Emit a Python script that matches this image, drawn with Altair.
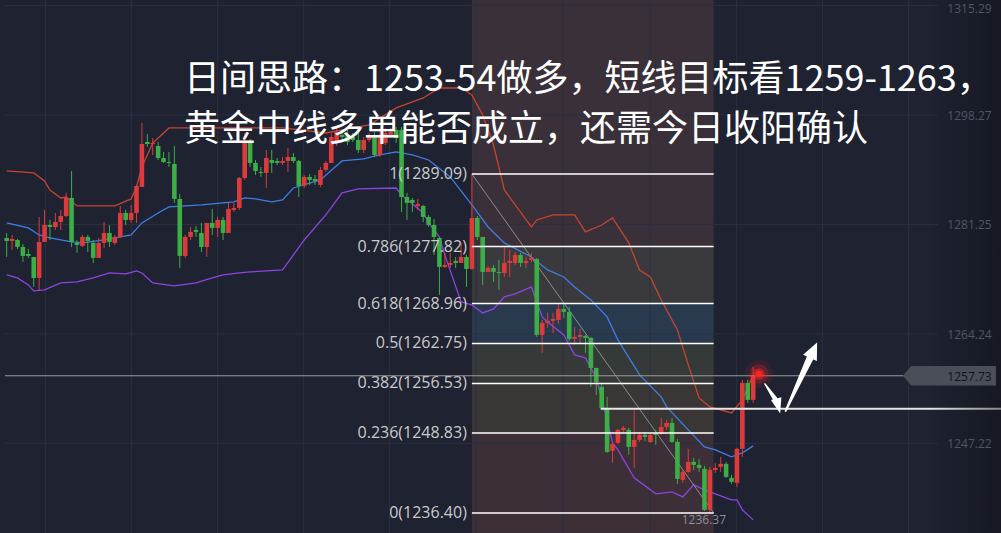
import altair as alt
import pandas as pd

# ---------------- candles (index = bar number, prices in USD/oz) ----------------
open_ = [1279.16, 1278.69, 1278.84, 1277.75, 1276.67, 1276.20, 1272.94, 1278.53, 1281.17, 1280.86,
         1281.64, 1282.57, 1285.37, 1278.38, 1277.91, 1279.31, 1278.38, 1276.05, 1278.38, 1279.93,
         1278.38, 1279.31, 1283.04, 1281.95, 1283.04, 1287.08, 1294.07, 1293.76, 1293.45, 1291.58,
         1290.96, 1290.65, 1285.22, 1276.36, 1279.31, 1280.40, 1279.93, 1277.75, 1281.49, 1280.71,
         1281.95, 1279.93, 1283.51, 1283.82, 1288.48, 1293.91, 1290.81, 1289.41, 1289.26, 1291.27,
         1291.12, 1290.81, 1291.12, 1291.74, 1291.12, 1287.24, 1288.64, 1288.33, 1287.39, 1289.72,
         1290.81, 1293.91, 1295.16, 1295.16, 1294.85, 1294.38, 1292.83, 1294.38, 1295.16, 1292.05,
         1293.91, 1295.16, 1295.94, 1295.94, 1285.52, 1285.06, 1284.13, 1284.13, 1282.42, 1281.17,
         1279.15, 1274.65, 1274.96, 1275.58, 1275.27, 1276.20, 1274.34, 1282.26, 1279.31, 1273.87,
         1274.49, 1273.87, 1273.71, 1275.27, 1275.27, 1276.52, 1275.27, 1275.74, 1275.89, 1264.08,
         1265.95, 1266.26, 1266.41, 1268.12, 1267.66, 1263.46, 1263.77, 1263.92, 1263.61, 1258.95,
         1256.00, 1252.74, 1246.06, 1247.29, 1249.32, 1249.32, 1246.68, 1247.76, 1248.54, 1247.45,
         1248.85, 1248.69, 1249.78, 1250.40, 1247.45, 1241.55, 1242.79, 1244.35, 1243.88, 1243.26,
         1236.89, 1243.10, 1243.57, 1244.04, 1241.86, 1241.08, 1246.37, 1256.62, 1253.98]
high = [1279.93, 1279.62, 1279.00, 1278.22, 1277.45, 1276.20, 1282.42, 1283.51, 1281.95, 1283.04,
        1283.51, 1286.15, 1289.57, 1278.84, 1279.62, 1279.62, 1278.84, 1279.15, 1281.64, 1281.17,
        1279.62, 1284.13, 1283.51, 1284.29, 1287.39, 1297.03, 1295.32, 1294.69, 1294.07, 1292.52,
        1292.52, 1293.45, 1285.99, 1279.62, 1280.86, 1281.02, 1281.49, 1281.49, 1283.66, 1282.42,
        1282.42, 1284.60, 1284.60, 1288.64, 1295.47, 1294.53, 1291.27, 1290.19, 1292.83, 1292.83,
        1291.58, 1291.74, 1293.14, 1292.36, 1291.27, 1288.95, 1289.10, 1288.95, 1290.19, 1291.12,
        1295.47, 1296.25, 1295.94, 1295.94, 1295.47, 1295.47, 1294.85, 1295.47, 1295.63, 1296.25,
        1296.25, 1296.25, 1296.40, 1296.40, 1286.15, 1285.37, 1285.22, 1284.29, 1282.73, 1282.11,
        1279.31, 1276.83, 1276.83, 1276.20, 1278.38, 1276.52, 1289.09, 1282.57, 1279.31, 1274.80,
        1274.96, 1275.74, 1277.76, 1277.29, 1276.98, 1276.83, 1276.20, 1276.83, 1276.05, 1266.41,
        1267.50, 1267.50, 1269.05, 1269.21, 1268.43, 1265.33, 1265.01, 1264.08, 1263.77, 1258.95,
        1256.62, 1254.45, 1247.45, 1249.47, 1249.94, 1249.63, 1252.43, 1249.01, 1249.01, 1248.85,
        1249.32, 1251.18, 1250.87, 1251.18, 1247.92, 1243.10, 1246.37, 1244.97, 1244.81, 1243.72,
        1243.57, 1244.19, 1245.13, 1244.35, 1242.32, 1246.52, 1257.09, 1257.09, 1259.11]
low = [1276.20, 1277.29, 1277.44, 1275.43, 1276.05, 1271.54, 1271.07, 1278.53, 1278.84, 1280.40,
       1280.40, 1282.42, 1277.75, 1276.83, 1277.75, 1276.98, 1275.27, 1276.05, 1277.60, 1277.75,
       1278.07, 1279.15, 1281.17, 1281.49, 1281.49, 1287.08, 1293.30, 1292.05, 1291.27, 1290.81,
       1290.19, 1284.60, 1274.49, 1276.05, 1278.84, 1279.31, 1276.98, 1276.20, 1279.62, 1279.31,
       1278.84, 1279.93, 1283.20, 1283.51, 1288.17, 1290.19, 1288.95, 1288.64, 1286.92, 1289.26,
       1290.50, 1290.50, 1289.41, 1290.81, 1285.52, 1286.92, 1287.39, 1287.39, 1287.08, 1289.41,
       1290.81, 1293.45, 1294.38, 1293.60, 1294.07, 1292.36, 1292.36, 1294.07, 1291.74, 1291.74,
       1293.60, 1294.85, 1293.91, 1283.20, 1281.95, 1283.20, 1283.51, 1281.64, 1280.86, 1276.52,
       1270.30, 1274.49, 1274.49, 1274.49, 1275.27, 1271.54, 1274.18, 1278.84, 1271.85, 1273.87,
       1272.32, 1271.07, 1273.09, 1273.09, 1274.96, 1274.65, 1274.49, 1275.43, 1263.77, 1261.28,
       1265.17, 1264.39, 1265.79, 1266.72, 1263.15, 1262.53, 1262.84, 1261.28, 1256.00, 1254.76,
       1252.43, 1245.75, 1244.19, 1247.14, 1248.85, 1245.44, 1243.41, 1247.45, 1247.60, 1247.29,
       1246.99, 1248.54, 1249.32, 1247.29, 1240.93, 1241.08, 1242.64, 1243.10, 1242.79, 1236.73,
       1236.37, 1242.64, 1242.79, 1241.86, 1240.93, 1240.46, 1245.13, 1253.51, 1253.51]
close = [1278.69, 1279.00, 1277.75, 1276.36, 1276.36, 1272.94, 1278.53, 1281.17, 1280.86, 1281.64,
         1282.57, 1285.37, 1278.53, 1278.07, 1279.31, 1278.69, 1276.05, 1278.38, 1279.93, 1278.53,
         1279.31, 1283.04, 1281.95, 1283.04, 1287.24, 1293.76, 1293.76, 1293.91, 1291.58, 1290.96,
         1290.81, 1285.22, 1276.36, 1279.31, 1280.09, 1280.09, 1277.75, 1281.49, 1280.71, 1281.95,
         1279.93, 1283.66, 1283.82, 1288.48, 1293.91, 1290.81, 1289.57, 1289.26, 1291.58, 1290.81,
         1290.81, 1291.12, 1291.74, 1291.12, 1287.24, 1288.64, 1288.17, 1288.02, 1289.72, 1290.81,
         1294.85, 1295.63, 1294.85, 1294.07, 1294.38, 1292.83, 1294.38, 1294.85, 1292.05, 1294.85,
         1295.47, 1295.63, 1294.69, 1285.52, 1284.60, 1284.60, 1284.44, 1282.42, 1281.17, 1279.31,
         1274.65, 1274.96, 1275.27, 1275.27, 1276.20, 1274.34, 1282.26, 1279.31, 1273.87, 1274.49,
         1273.87, 1273.71, 1275.27, 1275.58, 1276.52, 1275.27, 1275.58, 1276.05, 1264.08, 1265.95,
         1266.26, 1266.57, 1268.12, 1267.66, 1263.46, 1263.77, 1264.08, 1263.61, 1258.95, 1256.78,
         1252.74, 1245.90, 1247.14, 1249.32, 1249.63, 1246.68, 1247.76, 1248.54, 1248.23, 1248.54,
         1248.54, 1249.78, 1250.40, 1247.45, 1241.70, 1242.79, 1244.35, 1243.88, 1243.41, 1236.89,
         1243.10, 1243.41, 1244.04, 1242.01, 1241.24, 1246.37, 1256.62, 1253.98, 1257.73]

# ---------------- Bollinger bands (bar number, price) ----------------
upper_idx = [0, 5, 7, 8, 10, 11, 13, 20, 23, 24, 25, 27, 30, 43, 51, 59, 67, 72, 77, 80, 84, 86,
             88, 90, 92, 97, 98, 101, 105, 107, 110, 112, 115, 117, 119, 121, 124, 126, 128, 130,
             134, 136, 138]
upper_val = [1289.57, 1289.26, 1288.02, 1286.61, 1285.37, 1285.52, 1284.13, 1284.13, 1285.22,
             1287.08, 1290.19, 1293.91, 1296.25, 1296.25, 1296.25, 1295.47, 1296.71, 1299.36,
             1300.91, 1302.46, 1302.46, 1301.38, 1298.27, 1293.60, 1286.61, 1280.86, 1281.95,
             1282.73, 1282.73, 1280.09, 1281.17, 1282.26, 1278.38, 1274.18, 1273.09, 1269.52,
             1264.86, 1259.42, 1254.29, 1252.89, 1251.96, 1253.98, 1257.87]
mid_idx = [0, 4, 6, 8, 12, 14, 18, 23, 25, 28, 30, 36, 42, 44, 46, 49, 51, 53, 58, 62, 66, 69,
           72, 75, 78, 82, 86, 89, 92, 97, 100, 103, 105, 108, 111, 113, 117, 121, 122, 126, 129,
           131, 134, 136, 138]
mid_val = [1281.49, 1280.71, 1279.62, 1279.15, 1278.53, 1278.38, 1278.84, 1279.62, 1281.49,
           1283.04, 1283.97, 1284.29, 1284.75, 1285.37, 1285.22, 1284.75, 1285.06, 1286.92,
           1288.17, 1291.12, 1291.43, 1292.05, 1292.52, 1292.05, 1291.27, 1288.64, 1284.29,
           1280.86, 1278.38, 1276.20, 1274.18, 1273.09, 1271.54, 1269.52, 1266.88, 1263.30,
           1257.87, 1254.45, 1252.89, 1249.32, 1246.68, 1246.21, 1245.13, 1245.75, 1246.83]
lower_idx = [0, 2, 4, 5, 7, 10, 13, 16, 19, 22, 24, 25, 27, 31, 35, 38, 40, 43, 45, 51, 55, 59,
             62, 65, 72, 73, 77, 78, 80, 81, 84, 86, 88, 90, 92, 94, 97, 99, 100, 103, 105, 107,
             109, 111, 112, 113, 116, 120, 123, 125, 127, 129, 134, 135, 136, 138]
lower_val = [1273.40, 1272.94, 1271.85, 1270.92, 1271.07, 1272.16, 1272.32, 1272.94, 1273.71,
             1273.56, 1274.03, 1273.71, 1272.16, 1271.69, 1272.16, 1272.94, 1273.40, 1273.71,
             1273.87, 1274.18, 1278.84, 1282.73, 1286.15, 1286.77, 1286.92, 1285.84, 1283.04,
             1281.49, 1279.31, 1276.52, 1269.21, 1268.74, 1267.50, 1268.12, 1270.00, 1270.46,
             1271.54, 1266.88, 1266.10, 1264.08, 1260.97, 1260.51, 1257.40, 1250.87, 1247.29,
             1246.21, 1241.86, 1239.37, 1239.68, 1238.91, 1240.77, 1239.99, 1238.44, 1238.44,
             1236.89, 1235.33]

# ---------------- Fibonacci retracement ----------------
fib_ratio = ["1", "0.786", "0.618", "0.5", "0.382", "0.236", "0"]
fib_price = [1289.09, 1277.82, 1268.96, 1262.75, 1256.53, 1248.83, 1236.40]
fib_from, fib_to = 86, 130.7            # bar numbers spanned by the tool
zone_fill = ["#3a3039", "#3a393d", "#2a3a4e", "#353a39", "#3a3636", "#3c2f38"]

# ---------------- axis / annotations ----------------
price_ticks = [1315.29, 1298.27, 1281.25, 1264.24, 1247.22]
vgrid_idx = [7.2, 23.1, 39.0, 54.9, 70.8, 86.8, 102.9, 118.9, 134.9, 150.8, 166.7]
last_price = 1257.73
support_price = 1252.6
support_from = 109.8
low_bar, low_price = 130, 1236.37
headline_1 = "日间思路：1253-54做多，短线目标看1259-1263，"
headline_2 = "黄金中线多单能否成立，还需今日收阳确认"

# arrow shafts: (arrow id, bar number, price, width px) and heads: (bar, price, angle)
shaft_pts = [("down", 140.17, 1256.47, 1.5), ("down", 142.06, 1254.14, 4.5),
             ("up", 144.01, 1252.27, 2.0), ("up", 148.51, 1260.50, 7.0)]
head_up = (149.16, 1261.70, 25)
head_down = (142.62, 1253.02, 165)
glow_bar, glow_price = 139.07, 1258.02

# ---------------- styling ----------------
BG = "#1e2231"
GRID = "#2b3040"
RED = "#dd3b3b"
GREEN = "#3cae46"
FONT = "Open Sans"
CJK = "Noto Sans CJK SC"
X_MIN, X_MAX = -0.311, 172.54
Y_MIN, Y_MAX = 1233.29, 1316.14
X_EDGE = 184.0                        # past the right edge of the page, in bar units
GRID_END = 172.18                     # horizontal grid stops just before the price labels
LABEL_AT = 173.9                      # left edge of the price labels

xs = alt.Scale(domain=[X_MIN, X_MAX], nice=False, zero=False)
ys = alt.Scale(domain=[Y_MIN, Y_MAX], nice=False, zero=False)


def X(field, **kw):
    return alt.X(field, type="quantitative", scale=xs, axis=None, **kw)


def Y(field, **kw):
    return alt.Y(field, type="quantitative", scale=ys, axis=None, **kw)


candles = pd.DataFrame({"i": range(len(open_)), "open": open_, "high": high,
                        "low": low, "close": close})
candles["col"] = [RED if c >= o else GREEN for o, c in zip(open_, close)]

zone_tops = [Y_MAX] + fib_price[1:-1]
zone_bots = fib_price[1:-1] + [Y_MIN]
zones = pd.DataFrame({"x": fib_from, "x2": fib_to, "top": zone_tops, "bot": zone_bots,
                      "fill": zone_fill})
fibs = pd.DataFrame({"x": fib_from, "x2": fib_to, "p": fib_price,
                     "label": [f"{r}({p:.2f})" for r, p in zip(fib_ratio, fib_price)]})

bands = pd.concat([
    pd.DataFrame({"i": upper_idx, "v": upper_val, "band": "upper", "col": "#c9442e"}),
    pd.DataFrame({"i": mid_idx, "v": mid_val, "band": "mid", "col": "#3d7fe6"}),
    pd.DataFrame({"i": lower_idx, "v": lower_val, "band": "lower", "col": "#8e44e0"}),
])

ticks = pd.DataFrame({"a": X_MIN, "b": GRID_END, "lx": LABEL_AT, "p": price_ticks,
                      "t": [f"{p:.2f}" for p in price_ticks]})
# the topmost label sits against the upper edge, so it is nudged down a little more
ticks["dy"] = [4] + [1] * (len(price_ticks) - 1)

# shaded retracement zones
zone_layer = alt.Chart(zones).mark_rect().encode(
    x=X("x"), x2="x2", y=Y("top"), y2="bot", color=alt.Color("fill:N", scale=None))

hgrid = alt.Chart(ticks).mark_rule(color=GRID, strokeWidth=1).encode(x=X("a"), x2="b", y=Y("p"))
vgrid = alt.Chart(pd.DataFrame({"g": vgrid_idx})).mark_rule(color=GRID, strokeWidth=1).encode(
    x=X("g"))
price_labels_top = alt.Chart(ticks.iloc[:1]).mark_text(
    align="left", baseline="middle", dy=4, font=FONT, fontSize=12, color="#4f5668").encode(
    x=X("lx"), y=Y("p"), text="t:N")
price_labels = alt.Chart(ticks.iloc[1:]).mark_text(
    align="left", baseline="middle", dy=1, font=FONT, fontSize=12, color="#4f5668").encode(
    x=X("lx"), y=Y("p"), text="t:N")

band_layer = alt.Chart(bands).mark_line(strokeWidth=1.3).encode(
    x=X("i"), y=Y("v"), detail="band:N", color=alt.Color("col:N", scale=None))

trend = alt.Chart(pd.DataFrame({"i": [fib_from, fib_to], "p": [fib_price[0], fib_price[-1]]})
                  ).mark_line(color="#8e8e8e", strokeWidth=1).encode(x=X("i"), y=Y("p"))

wicks = alt.Chart(candles).mark_rule(strokeWidth=1).encode(
    x=X("i"), y=Y("low"), y2="high", color=alt.Color("col:N", scale=None))
bodies = alt.Chart(candles).mark_bar(size=4.6).encode(
    x=X("i"), y=Y("open"), y2="close", color=alt.Color("col:N", scale=None))

fib_lines = alt.Chart(fibs).mark_rule(color="#ffffff", strokeWidth=1.5).encode(
    x=X("x"), x2="x2", y=Y("p"))
fib_text = alt.Chart(fibs).mark_text(align="right", baseline="middle", dx=-5, font=FONT,
                                     fontSize=16, color="#cacaca").encode(
    x=X("x"), y=Y("p"), text="label:N")

price_line = alt.Chart(pd.DataFrame({"a": [X_MIN], "b": [165.8], "p": [last_price]})).mark_rule(
    color="#9a9a9a", strokeWidth=1).encode(x=X("a"), x2="b", y=Y("p"))
support = alt.Chart(pd.DataFrame({"a": [support_from], "b": [X_EDGE], "p": [support_price]})
                    ).mark_rule(color="#e8e8e8", strokeWidth=2).encode(x=X("a"), x2="b", y=Y("p"))

edge_shade = alt.Chart(pd.DataFrame({"a": [170.5], "b": [X_EDGE]})).mark_rect(
    color=alt.LinearGradient(gradient="linear", x1=0, x2=1, y1=0, y2=0,
                             stops=[alt.GradientStop(color="rgba(10,12,18,0)", offset=0),
                                    alt.GradientStop(color="rgba(10,12,18,0.45)", offset=1)])
).encode(x=X("a"), x2="b")

tag_shape = "M-1,0L-0.82,-0.21L1,-0.21L1,0.21L-0.82,0.21Z"
tag = alt.Chart(pd.DataFrame({"i": [174.28], "p": [last_price]})).mark_point(
    shape=tag_shape, filled=True, size=8649, color="#4a4e59", opacity=1, strokeWidth=0).encode(
    x=X("i"), y=Y("p"))
tag_text = alt.Chart(pd.DataFrame({"i": [LABEL_AT], "p": [last_price],
                                   "t": [f"{last_price:.2f}"]})).mark_text(
    align="left", baseline="middle", dy=1, font=FONT, fontSize=12, color="#101217").encode(
    x=X("i"), y=Y("p"), text="t:N")

low_text = alt.Chart(pd.DataFrame({"i": [low_bar], "p": [low_price], "t": [f"{low_price:.2f}"]})
                     ).mark_text(align="center", baseline="top", dx=-6, dy=2, font=FONT,
                                 fontSize=12, color="#8b9099").encode(
    x=X("i"), y=Y("p"), text="t:N")

glow_df = pd.DataFrame({"i": [glow_bar] * 4, "p": [glow_price] * 4, "s": [800, 380, 130, 40],
                        "o": [0.10, 0.22, 0.5, 0.95]})
glow = alt.Chart(glow_df).mark_circle(color="#ff2424").encode(
    x=X("i"), y=Y("p"), size=alt.Size("s:Q", scale=None), opacity=alt.Opacity("o:Q", scale=None))

shafts = alt.Chart(pd.DataFrame(shaft_pts, columns=["id", "i", "p", "w"])).mark_trail(
    color="#ffffff").encode(x=X("i"), y=Y("p"), size=alt.Size("w:Q", scale=None), detail="id:N")
head_path_up = "M0,-1L0.9,1L-0.9,1Z"
head_path_down = "M0,-1L0.7,1L-0.7,1Z"
head_u = alt.Chart(pd.DataFrame([head_up], columns=["i", "p", "a"])).mark_point(
    shape=head_path_up, filled=True, size=286, color="#ffffff", opacity=1, strokeWidth=0).encode(
    x=X("i"), y=Y("p"), angle=alt.Angle("a:Q", scale=None))
head_d = alt.Chart(pd.DataFrame([head_down], columns=["i", "p", "a"])).mark_point(
    shape=head_path_down, filled=True, size=240, color="#ffffff", opacity=1, strokeWidth=0).encode(
    x=X("i"), y=Y("p"), angle=alt.Angle("a:Q", scale=None))

head_df = pd.DataFrame({"i": [32.8, 32.8], "p": [1303.71, 1295.94],
                        "t": [headline_1, headline_2]})
headline = alt.Chart(head_df).mark_text(align="left", baseline="middle", font=CJK, fontSize=36,
                                        color="#ffffff").encode(x=X("i"), y=Y("p"), text="t:N")

chart = alt.layer(
    zone_layer, hgrid, vgrid, band_layer, trend, wicks, bodies, fib_lines, fib_text,
    price_line, support, edge_shade, price_labels_top, price_labels, tag, tag_text, low_text,
    glow, shafts, head_u, head_d, headline
).properties(
    width=945, height=533, background=BG,
    padding={"left": 0, "top": 0, "right": 56, "bottom": 0},
    autosize=alt.AutoSizeParams(type="none"),
).configure_view(stroke=None)

chart.save("out.html", embed_options={"renderer": "svg", "actions": False})
